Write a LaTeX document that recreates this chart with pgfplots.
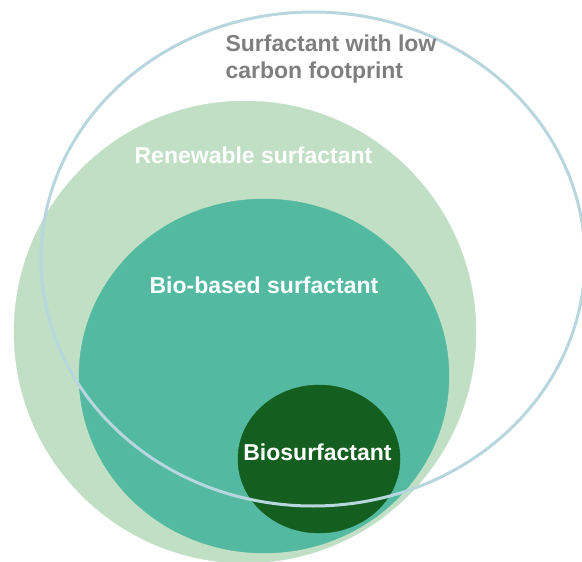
\documentclass[border=0pt]{standalone}
\usepackage{fontspec}
\setmainfont{Liberation Sans}
\usepackage{pgfplots}
\pgfplotsset{compat=1.18}
\definecolor{lgreen}{HTML}{C0DFC5}
\definecolor{teal2}{HTML}{53BAA1}
\definecolor{dgreen}{HTML}{145F20}
\definecolor{outl}{HTML}{B7D6DE}
\definecolor{gtext}{HTML}{7F7F7F}
\begin{document}
\begin{tikzpicture}
\begin{axis}[
  hide axis, scale only axis,
  width=582pt, height=562pt,
  xmin=0, xmax=582, ymin=0, ymax=562,
  y dir=reverse,
  clip=true, clip mode=global,
]
% Renewable surfactant
\addplot[only marks, mark=*, color=lgreen, mark size=231pt] coordinates {(245,332)};
% Bio-based surfactant
\addplot[only marks, mark=*, color=teal2, mark size=177pt, mark options={xscale=1.045}] coordinates {(264,376)};
% Biosurfactant
\addplot[only marks, mark=*, color=dgreen, mark size=74pt, mark options={xscale=1.095}] coordinates {(319,459)};
% Surfactant with low carbon footprint
\addplot[only marks, mark=o, color=outl, mark size=247pt, mark options={xscale=1.101, line width=3pt}] coordinates {(313,259)};

\coordinate (t1) at (axis cs:222,59);
\coordinate (t2) at (axis cs:253.5,155);
\coordinate (t3) at (axis cs:264,285);
\coordinate (t4) at (axis cs:317.5,452);
\end{axis}
\node[anchor=west, text=gtext, font=\fontsize{23}{27}\selectfont\bfseries, align=left] at (t1) {Surfactant with low\\carbon footprint};
\node[text=white, font=\fontsize{23}{27}\selectfont\bfseries] at (t2) {Renewable surfactant};
\node[text=white, font=\fontsize{23}{27}\selectfont\bfseries] at (t3) {Bio-based surfactant};
\node[text=white, font=\fontsize{23}{27}\selectfont\bfseries] at (t4) {Biosurfactant};
\pgfresetboundingbox
\path (current axis.south west) rectangle (current axis.north east);
\end{tikzpicture}
\end{document}
